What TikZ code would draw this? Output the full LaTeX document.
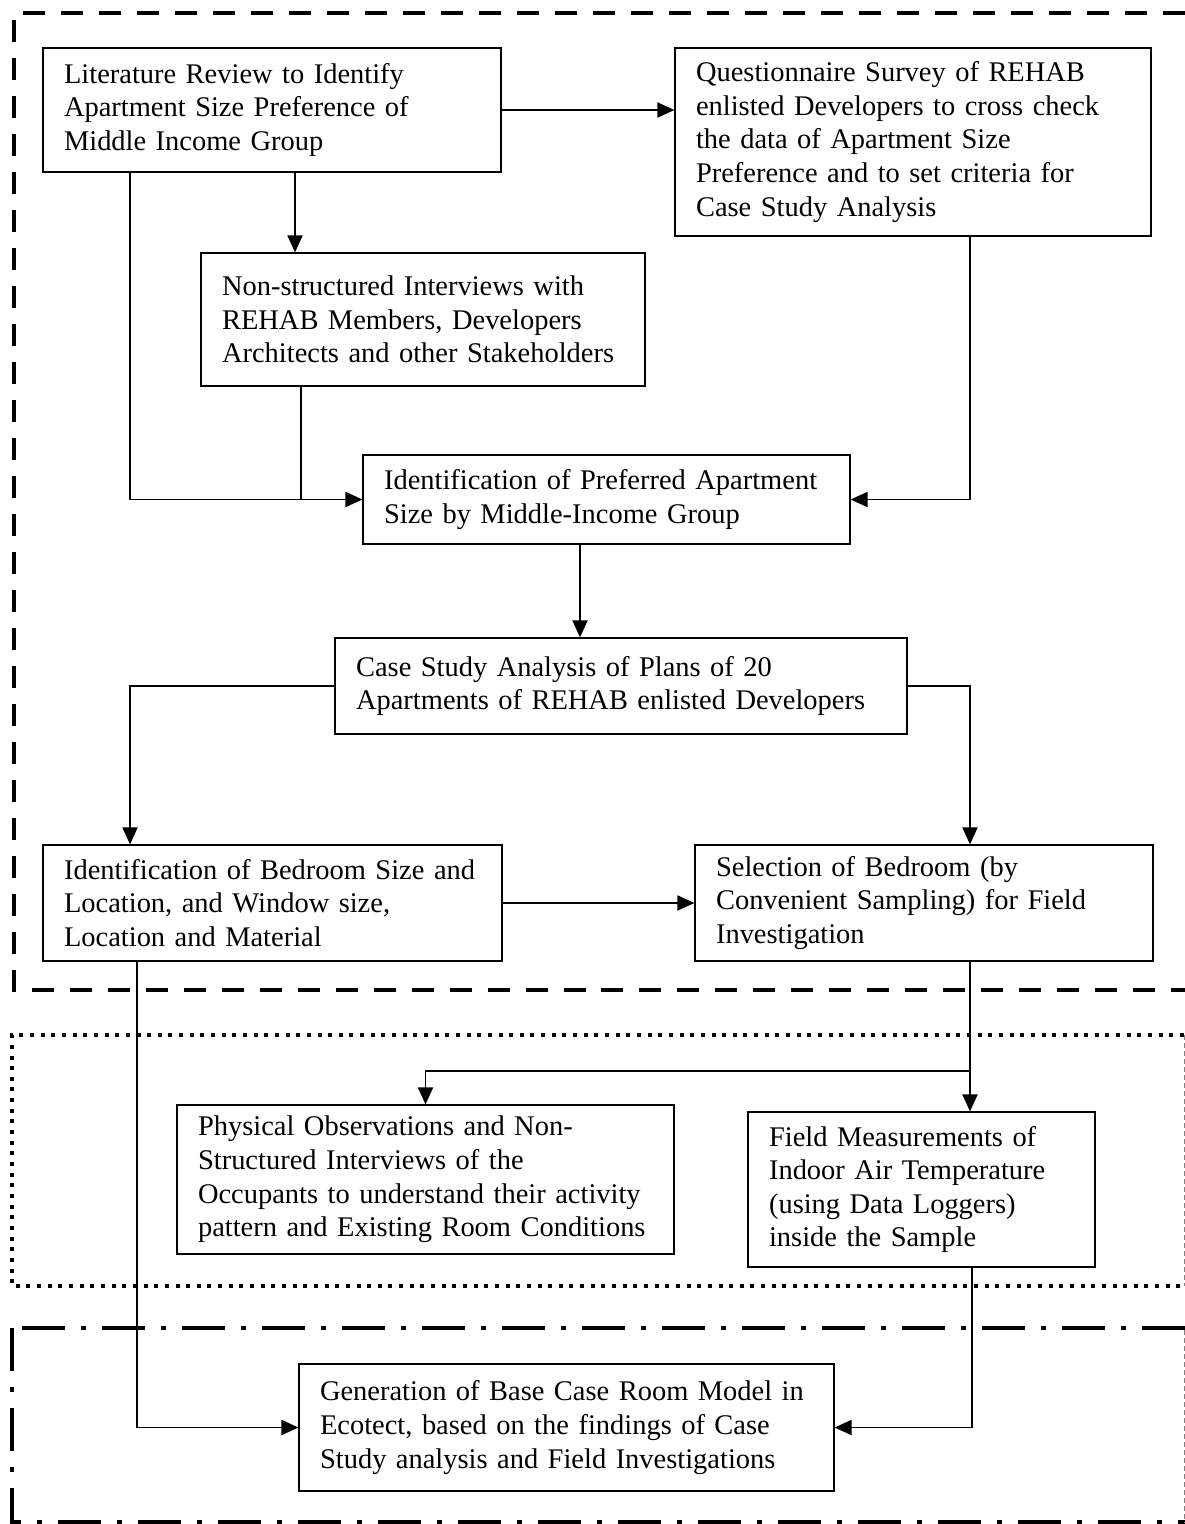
\documentclass[tikz,border=0pt]{standalone}
\usepackage{fontspec}
\setmainfont{Liberation Serif}
\usepackage{tikz}
\usetikzlibrary{arrows.meta}

\begin{document}
\begin{tikzpicture}[x=0.02cm, y=-0.02cm,
    box/.style={draw, line width=0.7pt, align=left, inner xsep=0.42cm, inner ysep=0pt,
        font=\fontsize{16.2}{19.1}\selectfont},
    arr/.style={-{Triangle[length=0.34cm,width=0.3cm]}, line width=1.1pt},
    plain/.style={line width=1.1pt},
    dashframe/.style={line width=2.3pt, dash pattern=on 0.44cm off 0.32cm},
    dotframe/.style={line width=1.9pt, dash pattern=on 0.08cm off 0.133cm},
    dashdotframe/.style={line width=2.3pt, dash pattern=on 0.86cm off 0.32cm on 0.1cm off 0.32cm},
    thinside/.style={line width=0.5pt, gray, dash pattern=on 0.1cm off 0.06cm}]
    \useasboundingbox (0,0) rectangle (1185,1524);

    % boxes
    \node[box, text width=8.32cm, minimum height=2.48cm] (lit) at (272,110)
        {Literature Review to Identify\\ Apartment Size Preference of\\ Middle Income Group};
    \node[box, text width=8.68cm, minimum height=3.76cm] (quest) at (913,142)
        {Questionnaire Survey of REHAB\\ enlisted Developers to cross check\\ the data of Apartment Size\\ Preference and to set criteria for\\ Case Study Analysis};
    \node[box, text width=8.04cm, minimum height=2.66cm] (nonst) at (423,319.5)
        {Non-structured Interviews with\\ REHAB Members, Developers\\ Architects and other Stakeholders};
    \node[box, text width=8.90cm, minimum height=1.78cm] (pref) at (606.5,499.5)
        {Identification of Preferred Apartment\\ Size by Middle-Income Group};
    \node[box, text width=10.60cm, minimum height=1.92cm] (case) at (621,686)
        {Case Study Analysis of Plans of 20\\ Apartments of REHAB enlisted Developers};
    \node[box, text width=8.34cm, minimum height=2.32cm] (bed) at (272.5,903)
        {Identification of Bedroom Size and\\ Location, and Window size,\\ Location and Material};
    \node[box, text width=8.32cm, minimum height=2.32cm] (sel) at (924,903)
        {Selection of Bedroom (by\\ Convenient Sampling) for Field\\ Investigation};
    \node[box, text width=9.10cm, minimum height=2.98cm] (phys) at (425.5,1179.5)
        {Physical Observations and Non-\\ Structured Interviews of the\\ Occupants to understand their activity\\ pattern and Existing Room Conditions};
    \node[box, text width=6.10cm, minimum height=3.10cm] (field) at (921.5,1189.5)
        {Field Measurements of\\ Indoor Air Temperature\\ (using Data Loggers)\\ inside the Sample};
    \node[box, text width=9.86cm, minimum height=2.54cm] (gen) at (566.5,1427.5)
        {Generation of Base Case Room Model in\\ Ecotect, based on the findings of Case\\ Study analysis and Field Investigations};

    % frames
    \draw[dashframe] (1185,13) -- (14,13) -- (14,990) -- (1185,990);
    \draw[dotframe] (1184,1035) -- (12,1035) -- (12,1286) -- (1184,1286);
    \draw[thinside] (1184,1035) -- (1184,1286);
    \draw[dashdotframe] (1185,1328) -- (14,1328);
    \draw[dashdotframe] (12,1328) -- (12,1522) -- (1185,1522);
    \draw[thinside] (1184,1330) -- (1184,1522);

    % connectors
    \draw[arr] (lit.east) -- (lit.east -| quest.west);
    \draw[arr] ([xshift=0.46cm]lit.south) -- ([xshift=0.46cm]lit.south |- nonst.north);
    \draw[arr] ([xshift=-2.84cm]lit.south) |- (pref.west);
    \draw[plain] ([xshift=-2.44cm]nonst.south) -- ([xshift=-2.44cm]nonst.south |- pref.west);
    \draw[arr] ([xshift=1.14cm]quest.south) |- (pref.east);
    \draw[arr] ([xshift=-0.53cm]pref.south) -- ([xshift=-0.53cm]pref.south |- case.north);
    \draw[arr] (case.west) -| ([xshift=-2.85cm]bed.north);
    \draw[arr] (case.east) -| ([xshift=0.92cm]sel.north);
    \draw[arr] (bed.east) -- (sel.west);
    \draw[arr] ([xshift=0.92cm]sel.south) -- ([xshift=0.92cm]sel.south |- field.north);
    \draw[arr] ([xshift=0.92cm,yshift=-2.18cm]sel.south) -| (phys.north);
    \draw[arr] ([xshift=-2.71cm]bed.south) |- (gen.west);
    \draw[arr] ([xshift=1.01cm]field.south) |- (gen.east);
\end{tikzpicture}
\end{document}
